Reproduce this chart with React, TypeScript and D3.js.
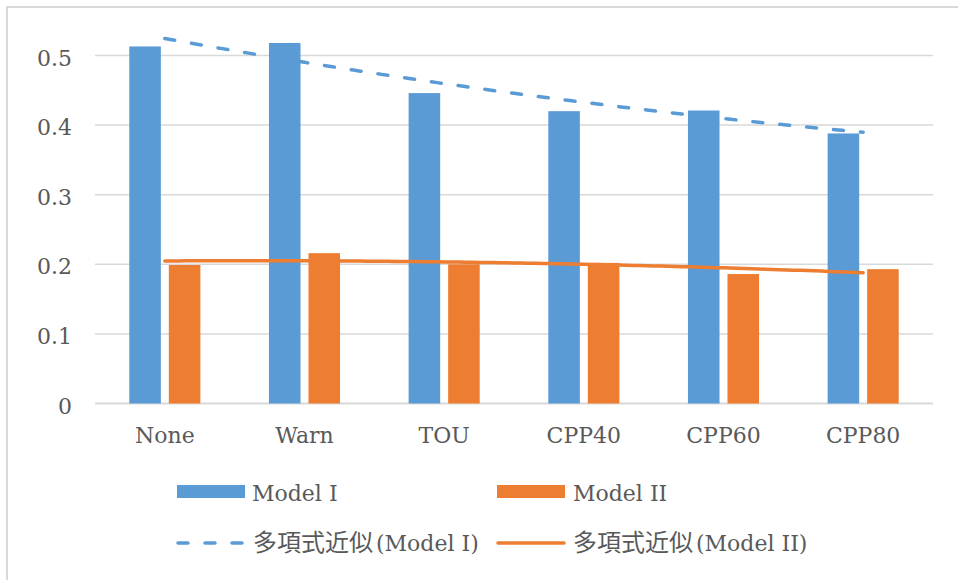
import React from "react";
import * as d3 from "d3";

const categories = ["None", "Warn", "TOU", "CPP40", "CPP60", "CPP80"];
const modelI = [0.513, 0.518, 0.446, 0.420, 0.421, 0.388];
const modelII = [0.199, 0.216, 0.200, 0.202, 0.186, 0.193];
const yTicks = [0, 0.1, 0.2, 0.3, 0.4, 0.5];
const legendLabels = ["Model I", "Model II"];
const trendPrefix = "多項式近似";
const trendSuffix = ["(Model I)", "(Model II)"];

const BLUE = "#5B9BD5";
const ORANGE = "#ED7D31";
const GRID = "#d9d9d9";
const TEXT = "#595959";
const FONT = "'DejaVu Serif', 'Noto Sans CJK JP', serif";

// quadratic least squares fit over x = 1..n
function polyFit2(ys: number[]) {
  const s = [0, 0, 0, 0, 0];
  const t = [0, 0, 0];
  ys.forEach((y, i) => {
    const x = i + 1;
    for (let k = 0; k <= 4; k++) s[k] += Math.pow(x, k);
    for (let k = 0; k <= 2; k++) t[k] += y * Math.pow(x, k);
  });
  const A = [
    [s[0], s[1], s[2], t[0]],
    [s[1], s[2], s[3], t[1]],
    [s[2], s[3], s[4], t[2]],
  ];
  for (let i = 0; i < 3; i++) {
    for (let j = i + 1; j < 3; j++) {
      const f = A[j][i] / A[i][i];
      for (let k = i; k < 4; k++) A[j][k] -= f * A[i][k];
    }
  }
  const c = [0, 0, 0];
  for (let i = 2; i >= 0; i--) {
    let v = A[i][3];
    for (let k = i + 1; k < 3; k++) v -= A[i][k] * c[k];
    c[i] = v / A[i][i];
  }
  return (x: number) => c[0] + c[1] * x + c[2] * x * x;
}

export default function App() {
  const W = 958, H = 580;
  const left = 95, right = 933, top = 55.5, bottom = 403.5;
  const x = d3.scaleBand<string>().domain(categories).range([left, right]).padding(0);
  const y = d3.scaleLinear().domain([0, 0.5]).range([bottom, top]);
  const bw = x.bandwidth();
  const barW = bw * 0.226;
  const gap = bw * 0.057;
  const groupW = barW * 2 + gap;

  const trendPath = (vals: number[]) => {
    const f = polyFit2(vals);
    const pts = d3.range(1, vals.length + 0.001, 0.05);
    const line = d3
      .line<number>()
      .x((v) => left + bw * (v - 0.5))
      .y((v) => y(f(v)));
    return line(pts) || "";
  };

  return (
    <svg width={W} height={H} style={{ position: "absolute", left: 0, top: 0, background: "#fff" }}>
      <rect x={7} y={7} width={W + 20} height={H + 20} fill="#fff" stroke={GRID} strokeWidth={2} />
      {yTicks.map((t) => (
        <g key={t}>
          <line x1={left} x2={right} y1={y(t)} y2={y(t)} stroke={GRID} strokeWidth={t === 0 ? 2 : 1.5} />
          <text x={72} y={y(t) + 10} textAnchor="end" fontFamily={FONT} fontSize={22} fill={TEXT}>
            {t === 0 ? "0" : d3.format(".1f")(t)}
          </text>
        </g>
      ))}
      {categories.map((c, i) => {
        const cx = (x(c) as number) + bw / 2;
        const x0 = cx - groupW / 2;
        return (
          <g key={c}>
            <rect x={x0} y={y(modelI[i])} width={barW} height={bottom - y(modelI[i])} fill={BLUE} />
            <rect x={x0 + barW + gap} y={y(modelII[i])} width={barW} height={bottom - y(modelII[i])} fill={ORANGE} />
            <text x={cx} y={443} textAnchor="middle" fontFamily={FONT} fontSize={22} fill={TEXT}>
              {c}
            </text>
          </g>
        );
      })}
      <path d={trendPath(modelI)} fill="none" stroke={BLUE} strokeWidth={3.5} strokeDasharray="10 17" strokeLinecap="round" />
      <path d={trendPath(modelII)} fill="none" stroke={ORANGE} strokeWidth={3.5} strokeLinecap="round" />

      {/* legend */}
      <rect x={177} y={485} width={68} height={13} fill={BLUE} />
      <text x={252} y={501} fontFamily={FONT} fontSize={22} fill={TEXT}>{legendLabels[0]}</text>
      <rect x={497} y={485} width={68} height={13} fill={ORANGE} />
      <text x={573} y={501} fontFamily={FONT} fontSize={22} fill={TEXT}>{legendLabels[1]}</text>

      <line x1={178} x2={244} y1={543} y2={543} stroke={BLUE} strokeWidth={3.5} strokeDasharray="10 17" strokeLinecap="round" />
      <text x={253} y={551} fontFamily={FONT} fontSize={22} fill={TEXT}>
        <tspan fontSize={24}>{trendPrefix}</tspan>
        <tspan dx={3}>{trendSuffix[0]}</tspan>
      </text>
      <line x1={498} x2={564} y1={543} y2={543} stroke={ORANGE} strokeWidth={3.5} strokeLinecap="round" />
      <text x={573} y={551} fontFamily={FONT} fontSize={22} fill={TEXT}>
        <tspan fontSize={24}>{trendPrefix}</tspan>
        <tspan dx={3}>{trendSuffix[1]}</tspan>
      </text>
    </svg>
  );
}
